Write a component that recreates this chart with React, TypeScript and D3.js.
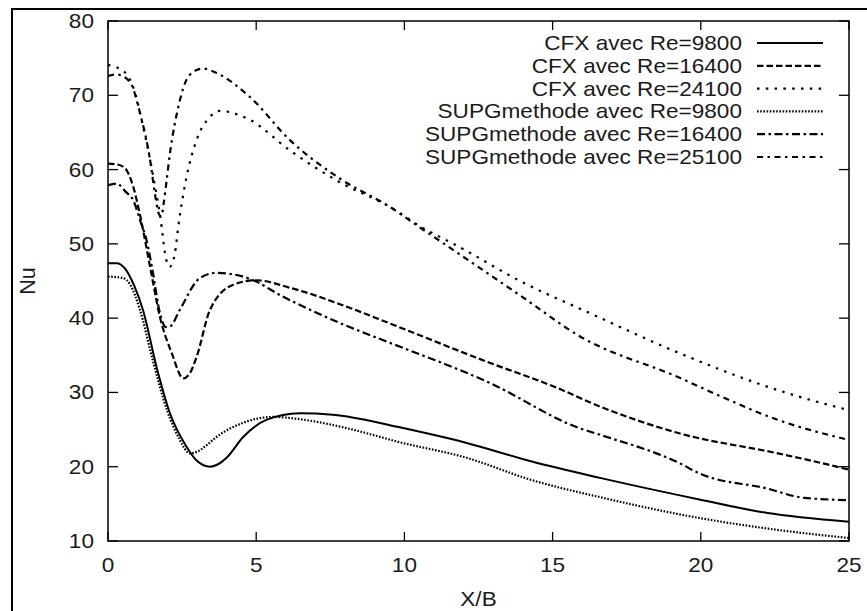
import React from 'react';
import * as d3 from 'd3';

const W = 867;
const H = 611;

const xTicks = [0, 5, 10, 15, 20, 25];
const yTicks = [10, 20, 30, 40, 50, 60, 70, 80];
const xLabel = 'X/B';
const yLabel = 'Nu';

const seriesNames = [
  'CFX avec Re=9800',
  'CFX avec Re=16400',
  'CFX avec Re=24100',
  'SUPGmethode avec Re=9800',
  'SUPGmethode avec Re=16400',
  'SUPGmethode avec Re=25100',
];

const cfx9800: [number, number][] = [
  [0, 47.4], [0.3, 47.4], [0.57, 46.7], [0.88, 44.4], [1.18, 41.1], [1.64, 33.4], [2.09, 27.2],
  [2.65, 22.7], [3.0, 20.8], [3.44, 20.0], [3.7, 20.3], [4.0, 21.2], [4.56, 24.0], [5.34, 26.3],
  [6.47, 27.2], [7.58, 27.0], [8.15, 26.7], [9.84, 25.3], [12.1, 23.2], [14.3, 20.7], [16.6, 18.5],
  [19.95, 15.6], [22.2, 13.8], [25, 12.6],
];
const cfx16400: [number, number][] = [
  [0, 60.8], [0.3, 60.7], [0.57, 60.2], [0.85, 57.7], [1.1, 53.5], [1.42, 46.9], [1.75, 40.2],
  [2.15, 35.3], [2.54, 31.9], [2.75, 32.5], [2.99, 34.8], [3.44, 41.1], [4.23, 44.5], [5.0, 45.1],
  [6.13, 44.1], [8.15, 41.4], [9.5, 39.3], [12.87, 34.0], [15.1, 30.7], [16.6, 28.1], [19.27, 24.5],
  [22.6, 21.8], [24.8, 19.8], [25, 19.6],
];
const cfx24100: [number, number][] = [
  [0, 74.1], [0.57, 73.1], [0.85, 71.1], [1.19, 65.7], [1.53, 59.0], [1.81, 52.3], [1.92, 48.8],
  [2.08, 46.9], [2.26, 48.8], [2.37, 52.3], [2.65, 59.0], [2.99, 64.0], [3.44, 67.1], [3.77, 67.9],
  [4.78, 66.7], [6.13, 62.6], [7.82, 58.3], [9.5, 55.0], [10.6, 52.2], [11.75, 49.8], [14.0, 44.8],
  [16.24, 40.7], [19.27, 35.3], [22.6, 30.3], [25, 27.6],
];
const supg9800: [number, number][] = [
  [0, 45.6], [0.5, 45.4], [0.75, 44.5], [1.08, 41.1], [1.5, 34.5], [2.0, 27.5], [2.4, 23.8],
  [2.76, 21.8], [3.0, 22.0], [3.3, 22.8], [3.66, 24.0], [4.55, 25.9], [5.57, 26.7], [6.47, 26.4],
  [7.6, 25.6], [8.15, 25.1], [9.84, 23.3], [12.1, 21.2], [14.3, 18.2], [16.6, 15.9], [19.95, 13.1],
  [22.2, 11.7], [25, 10.4],
];
const supg16400: [number, number][] = [
  [0, 57.9], [0.3, 58.1], [0.6, 57.0], [0.85, 55.9], [1.08, 53.2], [1.3, 50.5], [1.5, 46.5],
  [1.75, 40.7], [1.95, 38.8], [2.1, 38.9], [2.42, 41.1], [3.1, 45.4], [3.66, 46.1], [4.78, 45.3],
  [5.9, 42.9], [8.15, 38.8], [9.5, 36.7], [12.87, 31.3], [15.9, 25.2], [16.6, 24.3], [19.27, 20.5],
  [19.95, 19.1], [22.2, 17.1], [23.5, 15.8], [25, 15.5],
];
const supg25100: [number, number][] = [
  [0, 72.6], [0.3, 72.8], [0.74, 71.8], [1.08, 67.6], [1.42, 61.3], [1.58, 56.8], [1.72, 54.0],
  [1.8, 53.7], [1.88, 55.5], [1.98, 58.6], [2.09, 62.2], [2.26, 66.3], [2.43, 69.4], [2.65, 72.1],
  [2.99, 73.4], [3.2, 73.6], [3.66, 73.0], [4.78, 69.8], [6.13, 64.0], [7.82, 58.8], [9.5, 55.0],
  [10.6, 52.0], [11.75, 48.9], [14.0, 42.8], [15.9, 37.6], [19.27, 32.0], [20.6, 29.6],
  [22.6, 26.3], [25, 23.6],
];

const seriesData = [cfx9800, cfx16400, cfx24100, supg9800, supg16400, supg25100];
const dashes = ['', '6.5,3', '2.5,6.3', '1.6,1.6', '8,3.5,2.5,3.5', '6,4.5,2.5,4.5'];

const FONT = '"Liberation Sans", Arial, Helvetica, sans-serif';
const SX = 1.13;

function T({ x, y, anchor = 'start', children, rotate = 0 }: any) {
  const tr = rotate
    ? `translate(${x},${y}) rotate(${rotate}) scale(1.08,1.08)`
    : `translate(${x},${y}) scale(${SX},1)`;
  return (
    <text transform={tr} textAnchor={anchor} fontFamily={FONT} fontSize={20} fill="#1a1a1a">
      {children}
    </text>
  );
}

export default function App() {
  const left = 108, right = 849, top = 21, bottom = 541;
  const xs = d3.scaleLinear().domain([0, 25]).range([left, right]);
  const ys = d3.scaleLinear().domain([10, 80]).range([bottom, top]);
  const line = d3
    .line<[number, number]>()
    .x((d) => xs(d[0]))
    .y((d) => ys(d[1]))
    .curve(d3.curveMonotoneX);

  const legX1 = 757, legX2 = 823, legTextX = 742, legY0 = 43, legDy = 22.8;

  return (
    <svg width={W} height={H} style={{ position: 'absolute', left: 0, top: 0, display: 'block', background: '#fff' }}>
      <rect x={0} y={0} width={W} height={H} fill="#fff" />
      {/* outer frame */}
      <path d={`M12,${H} L12,9 L${W},9`} fill="none" stroke="#000" strokeWidth={2} />
      <defs>
        <clipPath id="clip">
          <rect x={left} y={top - 5} width={right - left} height={bottom - top + 5} />
        </clipPath>
      </defs>
      {/* series */}
      <g clipPath="url(#clip)">
        {seriesData.map((s, i) => (
          <path key={i} d={line(s) || ''} fill="none" stroke="#000" strokeWidth={i === 0 ? 2 : 2.2}
            strokeDasharray={dashes[i] || undefined} strokeLinejoin="round" />
        ))}
      </g>
      {/* plot frame */}
      <rect x={left} y={top} width={right - left} height={bottom - top} fill="none" stroke="#000" strokeWidth={1.5} />
      {/* ticks */}
      {yTicks.map((v) => (
        <g key={'y' + v}>
          <line x1={left} x2={left + 10} y1={ys(v)} y2={ys(v)} stroke="#000" strokeWidth={1.3} />
          <line x1={right} x2={right - 10} y1={ys(v)} y2={ys(v)} stroke="#000" strokeWidth={1.3} />
          <T x={94} y={ys(v) + 7} anchor="end">{v}</T>
        </g>
      ))}
      {xTicks.map((v) => (
        <g key={'x' + v}>
          <line x1={xs(v)} x2={xs(v)} y1={bottom} y2={bottom - 9} stroke="#000" strokeWidth={1.3} />
          <line x1={xs(v)} x2={xs(v)} y1={top} y2={top + 9} stroke="#000" strokeWidth={1.3} />
          <T x={xs(v)} y={572} anchor="middle">{v}</T>
        </g>
      ))}
      <T x={(left + right) / 2} y={606} anchor="middle">{xLabel}</T>
      <T x={35} y={(top + bottom) / 2} anchor="middle" rotate={-90}>{yLabel}</T>
      {/* legend */}
      {seriesNames.map((n, i) => (
        <g key={'l' + i}>
          <T x={legTextX} y={legY0 + i * legDy + 7} anchor="end">{n}</T>
          <line x1={legX1} x2={legX2} y1={legY0 + i * legDy} y2={legY0 + i * legDy} stroke="#000"
            strokeWidth={i === 0 ? 2 : 2.2} strokeDasharray={dashes[i] || undefined} />
        </g>
      ))}
    </svg>
  );
}
